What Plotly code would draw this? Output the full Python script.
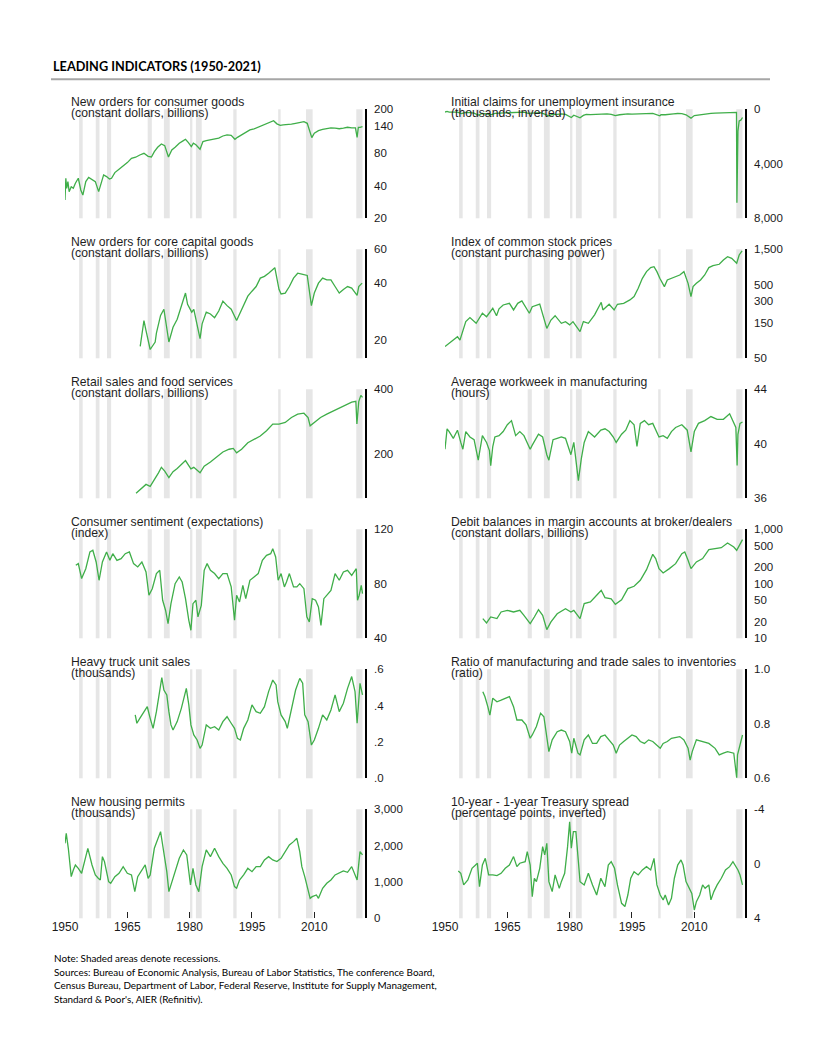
import plotly.graph_objects as go
import math

# ---------------- data ----------------
recession_start = [1953.4, 1957.4, 1960.1, 1969.9, 1973.8, 1980.1, 1981.5, 1990.5, 2001.3, 2008.0, 2020.1]
recession_end = [1954.25, 1958.3, 1961.1, 1970.9, 1975.2, 1980.65, 1982.9, 1991.3, 2001.9, 2009.6, 2021.6]

x_tick_years = [1950, 1965, 1980, 1995, 2010]

consumer_goods_yr = [1950.0, 1950.2, 1950.4, 1950.7, 1951.0, 1951.5, 1952.0, 1952.5, 1953.2, 1953.8, 1954.3, 1955.0, 1955.7, 1956.5, 1957.3, 1958.1, 1958.7, 1959.3, 1960.0, 1960.7, 1961.2, 1962.0, 1963.0, 1964.0, 1965.0, 1966.0, 1967.0, 1968.0, 1969.0, 1970.0, 1970.8, 1971.5, 1972.3, 1973.2, 1974.0, 1974.9, 1975.7, 1976.5, 1977.5, 1978.5, 1979.0, 1979.7, 1980.4, 1980.9, 1981.5, 1982.5, 1983.2, 1984.0, 1985.0, 1986.0, 1987.0, 1988.0, 1989.0, 1990.0, 1990.9, 1991.5, 1992.5, 1993.5, 1994.5, 1995.5, 1996.5, 1997.5, 1998.5, 1999.5, 2000.2, 2001.0, 2001.8, 2002.5, 2003.5, 2004.5, 2005.5, 2006.5, 2007.5, 2008.3, 2008.9, 2009.4, 2010.0, 2011.0, 2012.0, 2013.0, 2014.0, 2015.0, 2016.0, 2017.0, 2018.0, 2019.0, 2019.9, 2020.3, 2020.6, 2021.0, 2021.6]
consumer_goods_val = [29.4, 46.6, 37.7, 43.4, 35.1, 39.0, 37.7, 41.9, 46.6, 36.4, 32.7, 43.4, 47.5, 45.0, 43.4, 35.1, 41.9, 50.0, 48.3, 45.9, 46.6, 52.5, 56.4, 60.4, 64.9, 71.0, 72.7, 76.2, 78.9, 74.0, 73.1, 81.8, 89.6, 96.2, 92.8, 73.1, 84.7, 89.6, 97.6, 103.3, 106.2, 99.0, 90.8, 97.6, 94.6, 86.0, 101.0, 103.3, 104.9, 107.6, 109.0, 113.8, 116.3, 115.4, 106.2, 110.6, 116.3, 122.2, 129.2, 132.0, 136.8, 142.6, 148.8, 154.1, 157.2, 147.1, 142.6, 144.0, 144.0, 146.2, 148.8, 150.4, 154.0, 148.8, 124.8, 110.0, 120.5, 127.4, 131.1, 133.9, 135.3, 134.6, 132.7, 134.6, 136.8, 135.3, 135.3, 110.6, 136.8, 136.8, 138.5]

claims_yr = [1950.0, 1950.5, 1951.0, 1952.0, 1953.0, 1954.0, 1955.0, 1956.0, 1957.0, 1958.0, 1959.0, 1960.0, 1961.0, 1962.0, 1963.0, 1964.0, 1965.0, 1966.0, 1967.0, 1968.0, 1969.0, 1970.0, 1971.0, 1972.0, 1973.0, 1974.0, 1975.0, 1975.5, 1976.0, 1977.0, 1978.0, 1979.0, 1980.4, 1981.0, 1982.5, 1983.3, 1984.0, 1985.0, 1986.0, 1987.0, 1988.0, 1989.0, 1990.0, 1991.0, 1992.0, 1993.0, 1994.0, 1995.0, 1996.0, 1997.0, 1998.0, 1999.0, 2000.0, 2001.7, 2002.0, 2003.0, 2004.0, 2005.0, 2006.0, 2007.0, 2008.0, 2009.2, 2010.0, 2011.0, 2012.0, 2013.0, 2014.0, 2015.0, 2016.0, 2017.0, 2018.0, 2019.0, 2020.15, 2020.25, 2020.35, 2020.5, 2020.8, 2021.2, 2021.6]
claims_val = [200, 150, 200, 210, 200, 320, 230, 250, 280, 420, 300, 330, 400, 300, 290, 260, 240, 210, 230, 200, 200, 300, 290, 260, 240, 350, 500, 400, 370, 370, 340, 380, 600, 430, 620, 450, 370, 390, 380, 320, 310, 330, 380, 470, 400, 340, 330, 350, 350, 320, 320, 300, 300, 480, 400, 400, 340, 330, 310, 320, 400, 650, 460, 410, 370, 340, 300, 275, 260, 245, 220, 215, 220, 6850, 2900, 1600, 850, 800, 600]

capital_goods_yr = [1968.1, 1969.0, 1969.5, 1970.5, 1971.7, 1972.0, 1973.0, 1973.8, 1975.0, 1976.0, 1977.0, 1978.0, 1979.0, 1979.5, 1980.5, 1981.0, 1982.5, 1983.0, 1984.0, 1985.0, 1986.0, 1987.0, 1988.0, 1989.0, 1990.0, 1991.3, 1992.0, 1993.0, 1994.0, 1995.0, 1996.0, 1997.0, 1998.0, 1999.0, 2000.5, 2001.5, 2002.0, 2003.0, 2004.0, 2005.0, 2006.0, 2007.0, 2008.3, 2009.3, 2010.0, 2011.0, 2012.0, 2013.0, 2014.0, 2015.0, 2016.0, 2017.0, 2018.0, 2019.0, 2020.3, 2020.7, 2021.5]
capital_goods_val = [18.5, 25.3, 22.4, 17.8, 19.5, 21.7, 26.9, 29.0, 19.5, 23.3, 25.7, 30.3, 35.3, 30.8, 28.0, 29.0, 20.3, 24.3, 28.0, 27.4, 26.2, 28.4, 32.0, 30.3, 29.0, 25.3, 27.4, 30.3, 34.0, 36.1, 38.2, 42.3, 43.2, 44.9, 48.0, 36.9, 34.9, 35.3, 38.2, 42.3, 44.9, 44.4, 43.7, 30.3, 35.3, 39.8, 42.3, 41.4, 41.4, 38.2, 35.3, 36.9, 38.2, 37.5, 34.3, 38.2, 39.8]

stocks_yr = [1950.0, 1952.0, 1953.0, 1953.6, 1955.0, 1956.0, 1957.5, 1959.0, 1960.0, 1961.5, 1962.4, 1963.0, 1964.0, 1965.5, 1966.5, 1967.5, 1968.5, 1970.3, 1971.0, 1972.8, 1974.5, 1975.5, 1976.5, 1978.0, 1979.0, 1980.0, 1980.8, 1982.5, 1983.3, 1984.5, 1986.0, 1987.6, 1988.0, 1989.5, 1990.7, 1991.5, 1993.0, 1994.5, 1995.5, 1996.5, 1997.5, 1998.5, 1999.5, 2000.3, 2001.0, 2001.7, 2002.8, 2003.5, 2005.0, 2006.5, 2007.5, 2008.5, 2009.2, 2009.7, 2010.5, 2011.5, 2012.5, 2013.5, 2014.5, 2016.0, 2017.0, 2018.0, 2019.0, 2020.2, 2020.8, 2021.5]
stocks_val = [72, 88, 98, 88, 157, 178, 149, 204, 183, 238, 189, 234, 264, 278, 226, 278, 299, 204, 250, 272, 127, 165, 189, 149, 157, 142, 157, 115, 157, 149, 194, 287, 226, 270, 226, 270, 278, 309, 343, 444, 607, 747, 847, 873, 747, 607, 468, 576, 620, 673, 747, 519, 343, 468, 519, 576, 673, 847, 902, 940, 1075, 1193, 1133, 969, 1257, 1424]

retail_yr = [1967.1, 1968.5, 1969.5, 1970.5, 1971.5, 1972.5, 1973.2, 1974.0, 1975.0, 1976.0, 1977.0, 1978.5, 1979.0, 1980.3, 1981.0, 1982.5, 1983.5, 1985.0, 1986.5, 1988.0, 1989.5, 1990.5, 1991.3, 1992.5, 1994.0, 1995.5, 1997.0, 1998.5, 2000.0, 2001.5, 2003.0, 2004.5, 2006.0, 2007.5, 2008.5, 2009.0, 2010.0, 2011.5, 2013.0, 2015.0, 2017.0, 2019.0, 2020.0, 2020.25, 2020.7, 2021.2, 2021.6]
retail_val = [132, 139, 145, 142, 152, 164, 174, 167, 156, 166, 172, 182, 187, 171, 174, 164, 176, 184, 194, 205, 211, 213, 203, 211, 226, 234, 243, 257, 276, 276, 281, 296, 307, 310, 296, 271, 281, 296, 307, 321, 333, 349, 352, 276, 351, 375, 367]

workweek_yr = [1950.0, 1950.5, 1951.0, 1952.0, 1952.5, 1953.0, 1953.8, 1954.3, 1955.0, 1956.0, 1957.0, 1958.0, 1959.0, 1960.0, 1960.7, 1961.0, 1961.5, 1962.0, 1963.0, 1964.0, 1965.0, 1966.0, 1967.0, 1968.0, 1969.0, 1970.5, 1971.0, 1972.5, 1973.5, 1974.5, 1975.0, 1976.0, 1977.0, 1978.0, 1979.0, 1980.3, 1981.0, 1982.1, 1982.8, 1983.5, 1984.5, 1986.0, 1987.5, 1988.5, 1989.5, 1990.5, 1991.2, 1992.5, 1993.5, 1994.5, 1995.5, 1996.2, 1997.0, 1998.0, 1999.0, 2000.0, 2001.5, 2002.5, 2003.5, 2004.5, 2005.5, 2007.0, 2008.3, 2009.2, 2010.0, 2011.0, 2012.5, 2014.0, 2015.5, 2017.0, 2018.5, 2019.5, 2020.0, 2020.3, 2020.5, 2021.0, 2021.6]
workweek_val = [39.6, 41.1, 40.9, 40.4, 40.7, 41.0, 40.1, 39.6, 40.9, 40.5, 40.3, 38.8, 40.6, 40.1, 39.5, 38.4, 39.8, 40.5, 40.6, 40.9, 41.4, 41.7, 40.6, 40.9, 40.6, 39.6, 39.9, 40.7, 40.5, 39.2, 38.8, 40.3, 40.4, 40.5, 40.4, 39.2, 40.1, 37.3, 38.9, 40.1, 40.9, 40.5, 41.0, 41.1, 40.9, 40.5, 40.1, 40.7, 41.0, 41.7, 41.4, 39.8, 41.5, 41.7, 41.4, 41.5, 40.5, 40.6, 40.4, 40.9, 41.2, 41.4, 41.0, 39.4, 40.9, 41.5, 41.7, 42.0, 41.8, 41.8, 42.2, 41.6, 41.2, 38.4, 40.7, 41.5, 41.6]

sentiment_yr = [1952.6, 1953.2, 1954.0, 1955.0, 1956.0, 1956.7, 1957.5, 1958.2, 1959.0, 1960.0, 1960.8, 1961.5, 1962.5, 1963.5, 1964.5, 1965.5, 1966.5, 1967.5, 1968.5, 1969.5, 1970.2, 1971.0, 1972.0, 1972.8, 1973.5, 1974.2, 1974.8, 1975.5, 1976.5, 1977.5, 1978.2, 1979.0, 1979.8, 1980.3, 1980.8, 1981.5, 1982.0, 1982.8, 1983.5, 1984.2, 1985.0, 1986.0, 1987.0, 1988.0, 1989.0, 1990.0, 1990.8, 1991.3, 1992.0, 1992.8, 1993.5, 1994.5, 1995.5, 1996.5, 1997.5, 1998.5, 1999.5, 2000.0, 2000.7, 2001.3, 2002.0, 2002.8, 2003.3, 2004.0, 2005.0, 2005.8, 2006.5, 2007.5, 2008.2, 2008.8, 2009.5, 2010.3, 2011.0, 2011.6, 2012.3, 2013.0, 2014.0, 2015.0, 2016.0, 2017.0, 2018.0, 2019.0, 2020.1, 2020.4, 2020.8, 2021.3, 2021.6]
sentiment_val = [93.6, 94.8, 83.8, 91.1, 103.4, 104.6, 96.0, 82.6, 96.0, 103.4, 97.2, 102.1, 97.2, 98.5, 102.1, 103.4, 94.8, 92.4, 96.0, 88.7, 71.6, 76.4, 87.5, 89.9, 67.9, 60.6, 50.8, 65.4, 80.1, 85.0, 81.3, 69.1, 53.2, 45.9, 65.4, 67.9, 55.7, 64.2, 89.9, 94.8, 89.9, 87.5, 83.8, 87.5, 87.5, 77.7, 53.2, 71.6, 66.7, 78.9, 69.1, 82.6, 85.0, 87.5, 97.2, 100.9, 102.1, 105.8, 99.7, 82.6, 87.5, 77.7, 81.3, 87.5, 77.7, 77.7, 80.1, 76.4, 55.7, 52.0, 69.1, 67.9, 63.0, 49.5, 69.1, 71.6, 75.2, 87.5, 82.6, 88.7, 89.9, 86.2, 91.1, 67.9, 71.6, 78.9, 72.8]

margin_yr = [1959.1, 1960.0, 1961.0, 1962.5, 1963.5, 1965.0, 1966.5, 1968.0, 1969.0, 1970.5, 1971.5, 1972.5, 1973.5, 1974.5, 1975.5, 1977.0, 1979.0, 1980.3, 1981.0, 1982.5, 1983.5, 1985.0, 1986.5, 1987.6, 1988.5, 1990.0, 1991.0, 1992.5, 1994.0, 1995.5, 1997.0, 1998.5, 2000.0, 2000.7, 2001.5, 2002.5, 2004.0, 2005.5, 2007.0, 2007.7, 2008.5, 2009.2, 2010.5, 2012.0, 2013.5, 2015.0, 2016.5, 2018.0, 2019.5, 2020.2, 2021.6]
margin_val = [23.0, 19.1, 24.6, 23.0, 30.4, 32.6, 30.4, 32.6, 26.3, 18.6, 24.6, 33.6, 26.3, 14.4, 20.0, 28.2, 35.0, 30.4, 32.6, 23.0, 43.3, 46.4, 61.5, 76.0, 55.7, 53.2, 42.1, 51.0, 81.5, 90.0, 116, 182, 348, 290, 190, 158, 190, 234, 358, 384, 270, 190, 252, 290, 424, 442, 460, 561, 474, 412, 646]

trucks_yr = [1966.9, 1967.3, 1968.0, 1969.0, 1969.8, 1970.5, 1971.2, 1972.0, 1973.0, 1973.3, 1973.8, 1974.5, 1975.0, 1975.5, 1976.0, 1977.0, 1978.0, 1978.8, 1979.2, 1979.8, 1980.3, 1981.0, 1981.8, 1982.5, 1983.0, 1984.0, 1985.0, 1986.0, 1987.0, 1988.0, 1989.0, 1990.0, 1990.8, 1991.5, 1992.2, 1993.0, 1994.0, 1995.0, 1996.0, 1997.0, 1998.0, 1999.0, 2000.0, 2000.8, 2001.2, 2002.0, 2003.0, 2003.5, 2004.5, 2005.5, 2006.5, 2007.2, 2007.7, 2008.5, 2009.3, 2010.0, 2011.0, 2012.0, 2013.0, 2014.0, 2015.0, 2016.0, 2017.0, 2018.0, 2019.0, 2019.8, 2020.3, 2020.6, 2021.0, 2021.6]
trucks_val = [0.349, 0.303, 0.330, 0.367, 0.394, 0.330, 0.275, 0.367, 0.495, 0.554, 0.486, 0.459, 0.367, 0.294, 0.266, 0.312, 0.385, 0.450, 0.495, 0.404, 0.294, 0.239, 0.211, 0.165, 0.183, 0.294, 0.275, 0.284, 0.266, 0.312, 0.339, 0.303, 0.275, 0.220, 0.211, 0.275, 0.321, 0.404, 0.367, 0.358, 0.394, 0.477, 0.541, 0.514, 0.422, 0.349, 0.312, 0.275, 0.385, 0.486, 0.550, 0.523, 0.349, 0.312, 0.183, 0.211, 0.275, 0.349, 0.321, 0.376, 0.459, 0.367, 0.413, 0.495, 0.560, 0.477, 0.303, 0.413, 0.523, 0.459]

ratio_yr = [1959.1, 1959.6, 1960.3, 1960.8, 1961.5, 1962.5, 1963.5, 1964.5, 1965.5, 1966.5, 1967.3, 1968.5, 1969.5, 1970.5, 1971.0, 1972.0, 1973.0, 1973.8, 1974.5, 1975.0, 1975.8, 1977.0, 1978.0, 1979.0, 1980.0, 1980.5, 1981.0, 1982.0, 1982.5, 1983.5, 1984.5, 1985.5, 1986.5, 1987.5, 1988.5, 1989.5, 1990.5, 1991.2, 1992.0, 1993.0, 1994.0, 1995.0, 1996.0, 1997.0, 1998.0, 1999.0, 2000.0, 2001.0, 2001.8, 2002.5, 2003.5, 2004.5, 2005.5, 2006.5, 2007.5, 2008.5, 2009.0, 2009.5, 2010.5, 2012.0, 2013.5, 2015.0, 2016.0, 2017.0, 2018.0, 2019.5, 2020.2, 2020.4, 2021.0, 2021.6]
ratio_val = [0.918, 0.900, 0.863, 0.832, 0.894, 0.881, 0.887, 0.894, 0.900, 0.863, 0.814, 0.814, 0.796, 0.747, 0.759, 0.790, 0.839, 0.826, 0.759, 0.698, 0.741, 0.771, 0.777, 0.771, 0.735, 0.692, 0.747, 0.692, 0.686, 0.741, 0.759, 0.728, 0.728, 0.753, 0.759, 0.741, 0.722, 0.692, 0.722, 0.735, 0.747, 0.759, 0.753, 0.735, 0.728, 0.741, 0.735, 0.722, 0.710, 0.728, 0.735, 0.747, 0.749, 0.753, 0.741, 0.710, 0.667, 0.698, 0.741, 0.735, 0.728, 0.710, 0.686, 0.692, 0.698, 0.692, 0.602, 0.686, 0.728, 0.759]

permits_yr = [1950.0, 1950.3, 1950.8, 1951.2, 1951.5, 1952.0, 1952.5, 1953.2, 1954.0, 1955.0, 1955.5, 1956.5, 1957.3, 1958.0, 1958.5, 1959.0, 1959.5, 1960.5, 1961.0, 1962.0, 1963.0, 1964.0, 1965.0, 1966.0, 1966.8, 1967.5, 1968.5, 1969.3, 1970.0, 1970.5, 1971.5, 1972.5, 1973.0, 1973.5, 1974.5, 1975.0, 1975.5, 1976.5, 1977.5, 1978.5, 1979.3, 1980.2, 1980.8, 1981.5, 1982.2, 1983.0, 1984.0, 1985.0, 1986.0, 1987.0, 1988.0, 1989.0, 1990.0, 1990.8, 1991.3, 1992.0, 1993.0, 1994.0, 1995.0, 1996.0, 1997.0, 1998.0, 1999.0, 2000.0, 2001.0, 2002.0, 2003.0, 2004.0, 2005.0, 2005.8, 2006.5, 2007.0, 2007.7, 2008.5, 2009.0, 2009.5, 2010.5, 2011.0, 2012.0, 2013.0, 2014.0, 2015.0, 2016.0, 2017.0, 2018.0, 2019.0, 2020.3, 2020.6, 2021.0, 2021.6]
permits_val = [2064, 2339, 1927, 1376, 1147, 1330, 1468, 1376, 1239, 1697, 1927, 1468, 1193, 1101, 1055, 1697, 1560, 1009, 963, 1147, 1239, 1422, 1239, 1193, 734, 1147, 1330, 1468, 1101, 1193, 1927, 2202, 2385, 2018, 1284, 734, 917, 1239, 1651, 1881, 1743, 917, 1376, 917, 734, 1422, 1881, 1697, 1927, 1697, 1514, 1376, 1193, 872, 826, 1055, 1193, 1376, 1284, 1422, 1422, 1606, 1697, 1606, 1560, 1651, 1835, 2018, 2110, 2202, 1835, 1422, 1147, 780, 550, 596, 642, 550, 826, 963, 1055, 1193, 1239, 1303, 1266, 1422, 1055, 1376, 1835, 1743]

spread_yr = [1953.2, 1953.8, 1954.5, 1955.5, 1956.5, 1957.3, 1957.8, 1958.3, 1959.0, 1959.7, 1960.5, 1961.5, 1962.5, 1963.5, 1964.5, 1965.5, 1966.5, 1967.3, 1968.0, 1969.3, 1969.8, 1970.5, 1971.0, 1971.5, 1972.0, 1972.8, 1973.5, 1974.0, 1974.5, 1975.0, 1975.8, 1976.5, 1977.5, 1978.0, 1978.8, 1979.5, 1980.0, 1980.4, 1980.9, 1981.5, 1982.0, 1982.5, 1983.5, 1984.5, 1985.5, 1986.5, 1987.5, 1988.5, 1989.3, 1990.0, 1990.8, 1991.5, 1992.5, 1993.3, 1994.0, 1994.7, 1995.5, 1996.5, 1997.5, 1998.5, 1999.5, 2000.3, 2001.0, 2001.8, 2002.5, 2003.0, 2003.8, 2004.5, 2005.2, 2006.0, 2006.8, 2007.3, 2008.0, 2008.8, 2009.4, 2010.0, 2010.5, 2011.3, 2012.0, 2012.6, 2013.5, 2014.0, 2014.7, 2015.5, 2016.5, 2017.5, 2018.5, 2019.3, 2019.8, 2020.5, 2021.0, 2021.6]
spread_val = [0.53, 0.70, 1.55, 1.19, 0.33, 0.09, -0.04, 1.68, 0.09, -0.40, 0.82, 0.82, 0.87, 0.70, 0.33, 0.09, -0.53, 0.21, -0.04, -0.16, -0.89, 0.09, 2.41, 1.06, 1.31, 0.33, -1.26, -0.65, -1.50, 1.31, 2.04, 0.82, 1.80, 1.31, 0.70, -1.26, -3.09, -1.14, -2.36, -2.36, -0.53, 1.31, 1.55, 0.70, 1.55, 2.29, 1.06, 1.68, 0.09, -0.16, 0.33, 1.55, 2.90, 3.14, 2.29, 1.06, 0.58, 0.82, 0.45, 0.21, 0.45, -0.40, 1.55, 2.29, 2.65, 2.29, 3.02, 2.53, 1.06, 0.09, -0.28, 0.09, 1.31, 1.80, 2.17, 3.39, 2.78, 2.29, 1.55, 1.80, 1.55, 2.65, 2.04, 1.55, 1.06, 0.45, 0.21, -0.16, 0.09, 0.45, 0.82, 1.55]

titles = ["New orders for consumer goods", "Initial claims for unemployment insurance",
          "New orders for core capital goods", "Index of common stock prices",
          "Retail sales and food services", "Average workweek in manufacturing",
          "Consumer sentiment (expectations)", "Debit balances in margin accounts at broker/dealers",
          "Heavy truck unit sales", "Ratio of manufacturing and trade sales to inventories",
          "New housing permits", "10-year - 1-year Treasury spread"]
subtitles = ["(constant dollars, billions)", "(thousands, inverted)",
             "(constant dollars, billions)", "(constant purchasing power)",
             "(constant dollars, billions)", "(hours)",
             "(index)", "(constant dollars, billions)",
             "(thousands)", "(ratio)",
             "(thousands)", "(percentage points, inverted)"]

ticks_1 = [20, 40, 80, 140, 200]
ticks_2 = [0, 4000, 8000]
ticks_3 = [20, 40, 60]
ticks_4 = [50, 150, 300, 500, 1500]
ticks_5 = [200, 400]
ticks_6 = [36, 40, 44]
ticks_7 = [40, 80, 120]
ticks_8 = [10, 20, 50, 100, 200, 500, 1000]
ticks_9 = [0.0, 0.2, 0.4, 0.6]
ticks_10 = [0.6, 0.8, 1.0]
ticks_11 = [0, 1000, 2000, 3000]
ticks_12 = [-4, 0, 4]

ticktext_9 = [".0", ".2", ".4", ".6"]
ticktext_10 = ["0.6", "0.8", "1.0"]

notes = ["Note: Shaded areas denote recessions.",
         "Sources: Bureau of Economic Analysis, Bureau of Labor Statistics, The conference Board,",
         "Census Bureau, Department of Labor, Federal Reserve, Institute for Supply Management,",
         "Standard & Poor's, AIER (Refinitiv)."]

# ---------------- layout ----------------
W, H = 816, 1056
OFF = 8  # page body margin
GREEN = "#3fae49"
SHADE = "#e6e6e6"
COLS = [(65, 365), (445, 745)]
ROW_TOP = [109.3 + 140 * i for i in range(6)]
PH = 109
X_RANGE = [1950, 2022.2]


def fx(px):
    return (px - OFF) / W


def fy(py):
    return 1 - (py - OFF) / H


def fmt(v):
    if isinstance(v, float) and not v.is_integer():
        return str(v)
    return f"{int(v):,}"


def lg(v):
    return math.log10(v)


panels = [
    dict(x=consumer_goods_yr, y=consumer_goods_val, type="log", range=[lg(20), lg(200)], tv=ticks_1),
    dict(x=claims_yr, y=claims_val, type="linear", range=[8000, 0], tv=ticks_2),
    dict(x=capital_goods_yr, y=capital_goods_val, type="log", range=[lg(16), lg(60)], tv=ticks_3),
    dict(x=stocks_yr, y=stocks_val, type="log", range=[lg(50), lg(1500)], tv=ticks_4),
    dict(x=retail_yr, y=retail_val, type="log", range=[lg(125), lg(400)], tv=ticks_5),
    dict(x=workweek_yr, y=workweek_val, type="linear", range=[36, 44], tv=ticks_6),
    dict(x=sentiment_yr, y=sentiment_val, type="linear", range=[40, 120], tv=ticks_7),
    dict(x=margin_yr, y=margin_val, type="log", range=[lg(10), lg(1000)], tv=ticks_8),
    dict(x=trucks_yr, y=trucks_val, type="linear", range=[0, 0.6], tv=ticks_9, tt=ticktext_9),
    dict(x=ratio_yr, y=ratio_val, type="linear", range=[0.6, 1.0], tv=ticks_10, tt=ticktext_10),
    dict(x=permits_yr, y=permits_val, type="linear", range=[0, 3000], tv=ticks_11),
    dict(x=spread_yr, y=spread_val, type="linear", range=[4, -4], tv=ticks_12),
]

fig = go.Figure()
shapes = []
annotations = []
layout_axes = {}

for i, p in enumerate(panels):
    r, c = divmod(i, 2)
    n = i + 1
    sfx = "" if n == 1 else str(n)
    x0, x1 = COLS[c]
    top = ROW_TOP[r]
    bot = top + PH
    fig.add_trace(go.Scatter(x=p["x"], y=p["y"], xaxis="x" + sfx, yaxis="y" + sfx,
                             mode="lines", line=dict(color=GREEN, width=1.3),
                             hoverinfo="skip", showlegend=False))
    bottom_row = (r == 5)
    layout_axes["xaxis" + sfx] = dict(
        domain=[fx(x0), fx(x1)], anchor="y" + sfx, range=X_RANGE, automargin=False,
        showgrid=False, zeroline=False, showline=False,
        tickmode="array", tickvals=x_tick_years,
        ticktext=[str(v) for v in x_tick_years],
        ticks="inside" if bottom_row else "", ticklen=6, tickwidth=1, tickcolor="#222",
        showticklabels=bottom_row,
        tickfont=dict(family="Liberation Sans, Arial", size=12, color="#1a1a1a"),
    )
    tt = p.get("tt") or [fmt(v) for v in p["tv"]]
    layout_axes["yaxis" + sfx] = dict(
        domain=[fy(bot), fy(top)], anchor="x" + sfx, side="right", automargin=False,
        type=p["type"], range=p["range"],
        tickmode="array", tickvals=p["tv"], ticktext=tt,
        showgrid=False, zeroline=False,
        showline=True, linecolor="black", linewidth=1.5,
        ticks="outside", ticklen=5, tickcolor="rgba(0,0,0,0)",
        tickfont=dict(family="Liberation Sans, Arial", size=11.5, color="#1a1a1a"),
    )
    for s, e in zip(recession_start, recession_end):
        shapes.append(dict(type="rect", xref="x" + sfx, yref="y" + sfx + " domain",
                           x0=s, x1=e, y0=0, y1=1, fillcolor=SHADE,
                           line=dict(width=0), layer="below"))
    annotations.append(dict(text=titles[i], xref="paper", yref="paper",
                            x=fx(x0 + 4), y=fy(top - 7.6), xanchor="left", yanchor="middle",
                            showarrow=False,
                            font=dict(family="Liberation Sans, Arial", size=12.2, color="#1f1f1f")))
    annotations.append(dict(text=subtitles[i], xref="paper", yref="paper",
                            x=fx(x0 + 4), y=fy(top + 3.4), xanchor="left", yanchor="middle",
                            showarrow=False,
                            font=dict(family="Liberation Sans, Arial", size=12.2, color="#1f1f1f")))

# main title and rule
annotations.append(dict(text="<b>LEADING INDICATORS (1950-2021)</b>", xref="paper", yref="paper",
                        x=fx(51), y=fy(66), xanchor="left", yanchor="middle", showarrow=False,
                        font=dict(family="Lato, Calibri, sans-serif", size=12.7, color="#000000")))
shapes.append(dict(type="line", xref="paper", yref="paper", x0=fx(51), x1=fx(770),
                   y0=fy(79.3), y1=fy(79.3), line=dict(color="#a6a6a6", width=2)))

note_y = [958, 971.5, 985, 998.5]
for t, yy in zip(notes, note_y):
    annotations.append(dict(text=t, xref="paper", yref="paper", x=fx(52), y=fy(yy),
                            xanchor="left", yanchor="middle", showarrow=False,
                            font=dict(family="Lato, Calibri, sans-serif", size=9.9, color="#000000")))

fig.update_layout(template="none", width=W, height=H,
                  margin=dict(l=0, r=0, t=0, b=0, pad=0, autoexpand=False),
                  paper_bgcolor="white", plot_bgcolor="white",
                  shapes=shapes, annotations=annotations, showlegend=False,
                  **layout_axes)

fig.write_html("out.html", config={"displayModeBar": False})
